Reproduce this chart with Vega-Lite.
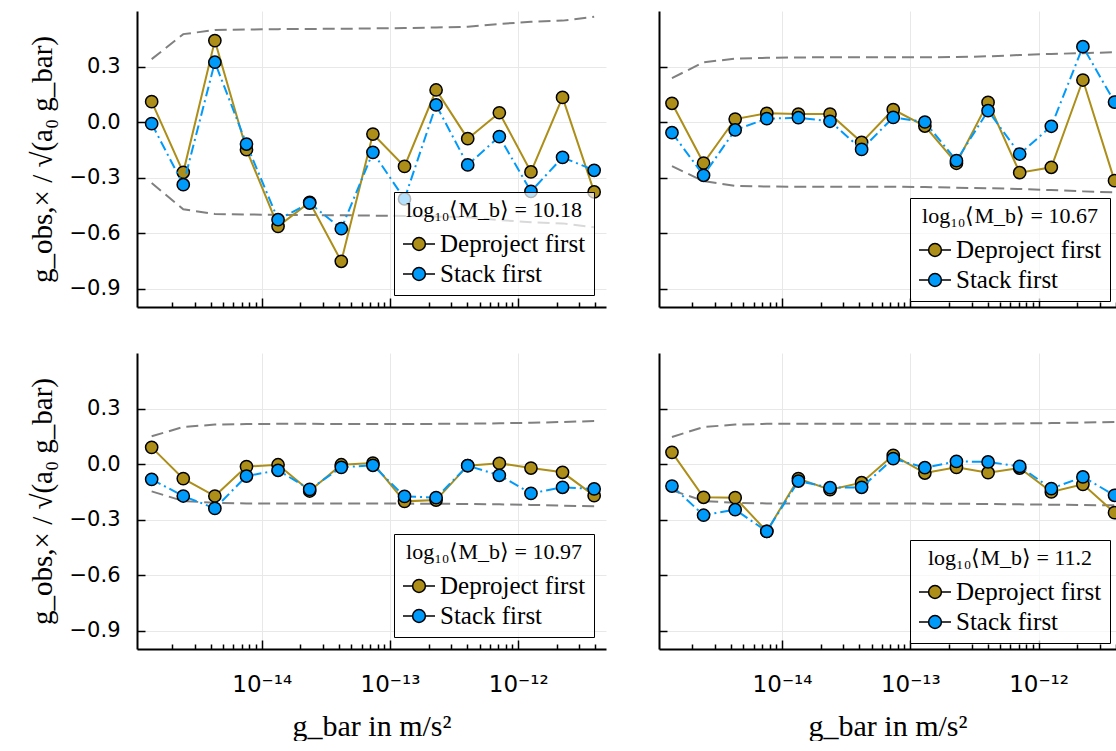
{
"$schema": "https://vega.github.io/schema/vega-lite/v6.json",
"background": "white",
"padding": {"left": 28, "top": 11, "right": 0, "bottom": 0},
"config": {
 "view": {"stroke": null},
 "axis": {"domainColor": "black", "domainWidth": 2, "tickColor": "black", "tickWidth": 1.5, "gridColor": "#e8e8e8", "gridWidth": 1, "labelColor": "black", "titleFont": "Liberation Serif", "titleFontSize": 29, "titleFontWeight": "normal", "titleColor": "black"},
 "legend": {"padding": 8, "fillColor": "rgba(255,255,255,0.7)", "strokeColor": "black", "cornerRadius": 0, "symbolSize": 1024, "symbolType": "M-1,0H-0.4M0.4,0H1M0.4,0A0.4,0.4,0,1,1,-0.4,0A0.4,0.4,0,1,1,0.4,0Z", "labelFont": "Liberation Serif", "labelFontSize": 25, "labelColor": "black", "labelOffset": 4, "labelLimit": 300, "titleFont": "Liberation Serif", "titleFontSize": 22, "titleFontWeight": "normal", "titleColor": "black", "titleAnchor": "middle", "titlePadding": 5, "titleLimit": 400, "rowPadding": -4}
},
"data": {"values": [
 {"p":"a","x":1.387e-15,"d":0.11,"s":-0.009,"lo":-0.33,"hi":0.34},
 {"p":"a","x":2.446e-15,"d":-0.272,"s":-0.339,"lo":-0.472,"hi":0.475},
 {"p":"a","x":4.313e-15,"d":0.44,"s":0.323,"lo":-0.497,"hi":0.497},
 {"p":"a","x":7.607e-15,"d":-0.15,"s":-0.119,"lo":-0.5,"hi":0.5},
 {"p":"a","x":1.341e-14,"d":-0.564,"s":-0.528,"lo":-0.502,"hi":0.502},
 {"p":"a","x":2.366e-14,"d":-0.434,"s":-0.438,"lo":-0.503,"hi":0.503},
 {"p":"a","x":4.172e-14,"d":-0.753,"s":-0.577,"lo":-0.504,"hi":0.504},
 {"p":"a","x":7.359e-14,"d":-0.065,"s":-0.164,"lo":-0.506,"hi":0.506},
 {"p":"a","x":1.298e-13,"d":-0.24,"s":-0.416,"lo":-0.508,"hi":0.508},
 {"p":"a","x":2.288e-13,"d":0.173,"s":0.092,"lo":-0.511,"hi":0.511},
 {"p":"a","x":4.036e-13,"d":-0.09,"s":-0.232,"lo":-0.515,"hi":0.515},
 {"p":"a","x":7.119e-13,"d":0.05,"s":-0.079,"lo":-0.53,"hi":0.53},
 {"p":"a","x":1.256e-12,"d":-0.27,"s":-0.375,"lo":-0.542,"hi":0.542},
 {"p":"a","x":2.214e-12,"d":0.133,"s":-0.191,"lo":-0.548,"hi":0.548},
 {"p":"a","x":3.905e-12,"d":-0.378,"s":-0.261,"lo":-0.569,"hi":0.569},
 {"p":"b","x":1.387e-15,"d":0.101,"s":-0.058,"lo":-0.239,"hi":0.237},
 {"p":"b","x":2.446e-15,"d":-0.222,"s":-0.288,"lo":-0.32,"hi":0.323},
 {"p":"b","x":4.313e-15,"d":0.016,"s":-0.043,"lo":-0.345,"hi":0.342},
 {"p":"b","x":7.607e-15,"d":0.047,"s":0.018,"lo":-0.349,"hi":0.347},
 {"p":"b","x":1.341e-14,"d":0.043,"s":0.023,"lo":-0.35,"hi":0.349},
 {"p":"b","x":2.366e-14,"d":0.043,"s":0.004,"lo":-0.35,"hi":0.35},
 {"p":"b","x":4.172e-14,"d":-0.11,"s":-0.148,"lo":-0.35,"hi":0.35},
 {"p":"b","x":7.359e-14,"d":0.067,"s":0.025,"lo":-0.35,"hi":0.35},
 {"p":"b","x":1.298e-13,"d":-0.022,"s":0.0,"lo":-0.352,"hi":0.35},
 {"p":"b","x":2.288e-13,"d":-0.223,"s":-0.209,"lo":-0.355,"hi":0.351},
 {"p":"b","x":4.036e-13,"d":0.106,"s":0.061,"lo":-0.358,"hi":0.355},
 {"p":"b","x":7.119e-13,"d":-0.274,"s":-0.173,"lo":-0.362,"hi":0.362},
 {"p":"b","x":1.256e-12,"d":-0.245,"s":-0.023,"lo":-0.368,"hi":0.368},
 {"p":"b","x":2.214e-12,"d":0.227,"s":0.407,"lo":-0.375,"hi":0.372},
 {"p":"b","x":3.905e-12,"d":-0.317,"s":0.108,"lo":-0.38,"hi":0.377},
 {"p":"c","x":1.387e-15,"d":0.09,"s":-0.083,"lo":-0.148,"hi":0.15},
 {"p":"c","x":2.446e-15,"d":-0.079,"s":-0.173,"lo":-0.2,"hi":0.2},
 {"p":"c","x":4.313e-15,"d":-0.173,"s":-0.24,"lo":-0.21,"hi":0.213},
 {"p":"c","x":7.607e-15,"d":-0.014,"s":-0.065,"lo":-0.213,"hi":0.216},
 {"p":"c","x":1.341e-14,"d":-0.004,"s":-0.034,"lo":-0.214,"hi":0.217},
 {"p":"c","x":2.366e-14,"d":-0.146,"s":-0.137,"lo":-0.214,"hi":0.217},
 {"p":"c","x":4.172e-14,"d":-0.004,"s":-0.018,"lo":-0.214,"hi":0.216},
 {"p":"c","x":7.359e-14,"d":0.005,"s":-0.007,"lo":-0.214,"hi":0.216},
 {"p":"c","x":1.298e-13,"d":-0.202,"s":-0.175,"lo":-0.214,"hi":0.216},
 {"p":"c","x":2.288e-13,"d":-0.195,"s":-0.182,"lo":-0.215,"hi":0.217},
 {"p":"c","x":4.036e-13,"d":-0.009,"s":-0.009,"lo":-0.216,"hi":0.218},
 {"p":"c","x":7.119e-13,"d":0.004,"s":-0.061,"lo":-0.218,"hi":0.22},
 {"p":"c","x":1.256e-12,"d":-0.022,"s":-0.159,"lo":-0.221,"hi":0.223},
 {"p":"c","x":2.214e-12,"d":-0.045,"s":-0.126,"lo":-0.225,"hi":0.227},
 {"p":"c","x":3.905e-12,"d":-0.171,"s":-0.135,"lo":-0.229,"hi":0.232},
 {"p":"d","x":1.387e-15,"d":0.063,"s":-0.119,"lo":-0.142,"hi":0.146},
 {"p":"d","x":2.446e-15,"d":-0.18,"s":-0.277,"lo":-0.2,"hi":0.2},
 {"p":"d","x":4.313e-15,"d":-0.182,"s":-0.247,"lo":-0.21,"hi":0.213},
 {"p":"d","x":7.607e-15,"d":-0.364,"s":-0.364,"lo":-0.213,"hi":0.217},
 {"p":"d","x":1.341e-14,"d":-0.079,"s":-0.092,"lo":-0.214,"hi":0.218},
 {"p":"d","x":2.366e-14,"d":-0.139,"s":-0.128,"lo":-0.214,"hi":0.218},
 {"p":"d","x":4.172e-14,"d":-0.101,"s":-0.126,"lo":-0.214,"hi":0.218},
 {"p":"d","x":7.359e-14,"d":0.047,"s":0.029,"lo":-0.214,"hi":0.217},
 {"p":"d","x":1.298e-13,"d":-0.049,"s":-0.02,"lo":-0.214,"hi":0.217},
 {"p":"d","x":2.288e-13,"d":-0.018,"s":0.014,"lo":-0.215,"hi":0.217},
 {"p":"d","x":4.036e-13,"d":-0.047,"s":0.011,"lo":-0.216,"hi":0.218},
 {"p":"d","x":7.119e-13,"d":-0.022,"s":-0.013,"lo":-0.218,"hi":0.219},
 {"p":"d","x":1.256e-12,"d":-0.151,"s":-0.133,"lo":-0.22,"hi":0.221},
 {"p":"d","x":2.214e-12,"d":-0.11,"s":-0.07,"lo":-0.222,"hi":0.224},
 {"p":"d","x":3.905e-12,"d":-0.263,"s":-0.169,"lo":-0.223,"hi":0.227}
]},
"columns": 2,
"spacing": {"row": 45, "column": 52},
"resolve": {"scale": {"fill": "independent", "x": "independent", "y": "independent"}, "legend": {"fill": "independent"}},
"concat": [
 {
  "width": 469, "height": 296,
  "transform": [{"filter": "datum.p == 'a'"}],
  "encoding": {"x": {"field": "x", "type": "quantitative", "scale": {"type": "log", "domain": [1.066e-15, 4.83e-12], "nice": false},
    "axis": {"values": [2e-15,3e-15,4e-15,5e-15,6e-15,7e-15,8e-15,9e-15,1e-14,2e-14,3e-14,4e-14,5e-14,6e-14,7e-14,8e-14,9e-14,1e-13,2e-13,3e-13,4e-13,5e-13,6e-13,7e-13,8e-13,9e-13,1e-12,2e-12,3e-12,4e-12], "labels": false, "title": null, "grid": true,
     "tickSize": {"condition": {"test": "datum.value == 1e-14 || datum.value == 1e-13 || datum.value == 1e-12", "value": -9}, "value": -5},
     "gridOpacity": {"condition": {"test": "datum.value == 1e-14 || datum.value == 1e-13 || datum.value == 1e-12", "value": 1}, "value": 0}}}},
  "layer": [
   {"mark": {"type": "line", "color": "#808080", "strokeWidth": 2, "strokeDash": [12, 6], "clip": true},
    "encoding": {"y": {"field": "hi", "type": "quantitative", "scale": {"domain": [-1, 0.6], "nice": false, "zero": false}, "axis": {"values": [-0.9,-0.6,-0.3,0,0.3], "format": ".1f", "tickSize": -8, "labelPadding": 25, "labelFont": "DejaVu Sans", "labelFontSize": 21, "grid": true, "title": "g_obs,× / √(a₀ g_bar)", "titlePadding": 12}}}},
   {"mark": {"type": "line", "color": "#808080", "strokeWidth": 2, "strokeDash": [12, 6], "clip": true},
    "encoding": {"y": {"field": "lo", "type": "quantitative", "scale": {"domain": [-1, 0.6], "nice": false, "zero": false}, "axis": {"values": [-0.9,-0.6,-0.3,0,0.3], "format": ".1f", "tickSize": -8, "labelPadding": 25, "labelFont": "DejaVu Sans", "labelFontSize": 21, "grid": true, "title": "g_obs,× / √(a₀ g_bar)", "titlePadding": 12}}}},
   {"mark": {"type": "line", "color": "#AC8E18", "strokeWidth": 2, "clip": true},
    "encoding": {"y": {"field": "d", "type": "quantitative", "scale": {"domain": [-1, 0.6], "nice": false, "zero": false}, "axis": {"values": [-0.9,-0.6,-0.3,0,0.3], "format": ".1f", "tickSize": -8, "labelPadding": 25, "labelFont": "DejaVu Sans", "labelFontSize": 21, "grid": true, "title": "g_obs,× / √(a₀ g_bar)", "titlePadding": 12}}}},
   {"mark": {"type": "point", "filled": true, "size": 150, "stroke": "black", "strokeWidth": 1.5, "opacity": 1, "clip": true},
    "encoding": {"y": {"field": "d", "type": "quantitative", "scale": {"domain": [-1, 0.6], "nice": false, "zero": false}, "axis": {"values": [-0.9,-0.6,-0.3,0,0.3], "format": ".1f", "tickSize": -8, "labelPadding": 25, "labelFont": "DejaVu Sans", "labelFontSize": 21, "grid": true, "title": "g_obs,× / √(a₀ g_bar)", "titlePadding": 12}},
     "fill": {"datum": "Deproject first", "type": "nominal", "scale": {"domain": ["Deproject first", "Stack first"], "range": ["#AC8E18", "#009AFA"]},
      "legend": {"title": "\u00a0\u00a0\u00a0log₁₀⟨M_b⟩ = 10.18\u00a0\u00a0\u00a0", "orient": "bottom-right", "offset": 12,
       "encode": {"legend": {"update": {"strokeWidth": {"value": 1.5}}}, "symbols": {"update": {"shape": {"value": "M-1,0H-0.4M0.4,0H1M0.4,0A0.4,0.4,0,1,1,-0.4,0A0.4,0.4,0,1,1,0.4,0Z"}, "size": {"value": 1024}, "strokeWidth": {"value": 2}, "stroke": {"signal": "datum.value === 'Deproject first' ? '#AC8E18' : '#009AFA'"}, "fill": {"signal": "datum.value === 'Deproject first' ? '#AC8E18' : '#009AFA'"}}}}}}}},
   {"mark": {"type": "line", "color": "#009AFA", "strokeWidth": 2, "strokeDash": [10, 4, 2, 4], "clip": true},
    "encoding": {"y": {"field": "s", "type": "quantitative", "scale": {"domain": [-1, 0.6], "nice": false, "zero": false}, "axis": {"values": [-0.9,-0.6,-0.3,0,0.3], "format": ".1f", "tickSize": -8, "labelPadding": 25, "labelFont": "DejaVu Sans", "labelFontSize": 21, "grid": true, "title": "g_obs,× / √(a₀ g_bar)", "titlePadding": 12}}}},
   {"mark": {"type": "point", "filled": true, "size": 150, "stroke": "black", "strokeWidth": 1.5, "opacity": 1, "clip": true},
    "encoding": {"y": {"field": "s", "type": "quantitative", "scale": {"domain": [-1, 0.6], "nice": false, "zero": false}, "axis": {"values": [-0.9,-0.6,-0.3,0,0.3], "format": ".1f", "tickSize": -8, "labelPadding": 25, "labelFont": "DejaVu Sans", "labelFontSize": 21, "grid": true, "title": "g_obs,× / √(a₀ g_bar)", "titlePadding": 12}},
     "fill": {"datum": "Stack first", "type": "nominal", "scale": {"domain": ["Deproject first", "Stack first"], "range": ["#AC8E18", "#009AFA"]},
      "legend": {"title": "\u00a0\u00a0\u00a0log₁₀⟨M_b⟩ = 10.18\u00a0\u00a0\u00a0", "orient": "bottom-right", "offset": 12,
       "encode": {"legend": {"update": {"strokeWidth": {"value": 1.5}}}, "symbols": {"update": {"shape": {"value": "M-1,0H-0.4M0.4,0H1M0.4,0A0.4,0.4,0,1,1,-0.4,0A0.4,0.4,0,1,1,0.4,0Z"}, "size": {"value": 1024}, "strokeWidth": {"value": 2}, "stroke": {"signal": "datum.value === 'Deproject first' ? '#AC8E18' : '#009AFA'"}, "fill": {"signal": "datum.value === 'Deproject first' ? '#AC8E18' : '#009AFA'"}}}}}}}}
  ]
 },
 {
  "width": 457, "height": 296,
  "transform": [{"filter": "datum.p == 'b'"}],
  "encoding": {"x": {"field": "x", "type": "quantitative", "scale": {"type": "log", "domain": [1.099e-15, 4.01e-12], "nice": false},
    "axis": {"values": [2e-15,3e-15,4e-15,5e-15,6e-15,7e-15,8e-15,9e-15,1e-14,2e-14,3e-14,4e-14,5e-14,6e-14,7e-14,8e-14,9e-14,1e-13,2e-13,3e-13,4e-13,5e-13,6e-13,7e-13,8e-13,9e-13,1e-12,2e-12,3e-12,4e-12], "labels": false, "title": null, "grid": true,
     "tickSize": {"condition": {"test": "datum.value == 1e-14 || datum.value == 1e-13 || datum.value == 1e-12", "value": -9}, "value": -5},
     "gridOpacity": {"condition": {"test": "datum.value == 1e-14 || datum.value == 1e-13 || datum.value == 1e-12", "value": 1}, "value": 0}}}},
  "layer": [
   {"mark": {"type": "line", "color": "#808080", "strokeWidth": 2, "strokeDash": [12, 6], "clip": true},
    "encoding": {"y": {"field": "hi", "type": "quantitative", "scale": {"domain": [-1, 0.6], "nice": false, "zero": false}, "axis": {"values": [-0.9,-0.6,-0.3,0,0.3], "tickSize": -8, "labels": false, "grid": true, "title": null}}}},
   {"mark": {"type": "line", "color": "#808080", "strokeWidth": 2, "strokeDash": [12, 6], "clip": true},
    "encoding": {"y": {"field": "lo", "type": "quantitative", "scale": {"domain": [-1, 0.6], "nice": false, "zero": false}, "axis": {"values": [-0.9,-0.6,-0.3,0,0.3], "tickSize": -8, "labels": false, "grid": true, "title": null}}}},
   {"mark": {"type": "line", "color": "#AC8E18", "strokeWidth": 2, "clip": true},
    "encoding": {"y": {"field": "d", "type": "quantitative", "scale": {"domain": [-1, 0.6], "nice": false, "zero": false}, "axis": {"values": [-0.9,-0.6,-0.3,0,0.3], "tickSize": -8, "labels": false, "grid": true, "title": null}}}},
   {"mark": {"type": "point", "filled": true, "size": 150, "stroke": "black", "strokeWidth": 1.5, "opacity": 1, "clip": true},
    "encoding": {"y": {"field": "d", "type": "quantitative", "scale": {"domain": [-1, 0.6], "nice": false, "zero": false}, "axis": {"values": [-0.9,-0.6,-0.3,0,0.3], "tickSize": -8, "labels": false, "grid": true, "title": null}},
     "fill": {"datum": "Deproject first", "type": "nominal", "scale": {"domain": ["Deproject first", "Stack first"], "range": ["#AC8E18", "#009AFA"]},
      "legend": {"title": "\u00a0\u00a0\u00a0log₁₀⟨M_b⟩ = 10.67\u00a0\u00a0\u00a0", "orient": "bottom-right", "offset": 6,
       "encode": {"legend": {"update": {"strokeWidth": {"value": 1.5}}}, "symbols": {"update": {"shape": {"value": "M-1,0H-0.4M0.4,0H1M0.4,0A0.4,0.4,0,1,1,-0.4,0A0.4,0.4,0,1,1,0.4,0Z"}, "size": {"value": 1024}, "strokeWidth": {"value": 2}, "stroke": {"signal": "datum.value === 'Deproject first' ? '#AC8E18' : '#009AFA'"}, "fill": {"signal": "datum.value === 'Deproject first' ? '#AC8E18' : '#009AFA'"}}}}}}}},
   {"mark": {"type": "line", "color": "#009AFA", "strokeWidth": 2, "strokeDash": [10, 4, 2, 4], "clip": true},
    "encoding": {"y": {"field": "s", "type": "quantitative", "scale": {"domain": [-1, 0.6], "nice": false, "zero": false}, "axis": {"values": [-0.9,-0.6,-0.3,0,0.3], "tickSize": -8, "labels": false, "grid": true, "title": null}}}},
   {"mark": {"type": "point", "filled": true, "size": 150, "stroke": "black", "strokeWidth": 1.5, "opacity": 1, "clip": true},
    "encoding": {"y": {"field": "s", "type": "quantitative", "scale": {"domain": [-1, 0.6], "nice": false, "zero": false}, "axis": {"values": [-0.9,-0.6,-0.3,0,0.3], "tickSize": -8, "labels": false, "grid": true, "title": null}},
     "fill": {"datum": "Stack first", "type": "nominal", "scale": {"domain": ["Deproject first", "Stack first"], "range": ["#AC8E18", "#009AFA"]},
      "legend": {"title": "\u00a0\u00a0\u00a0log₁₀⟨M_b⟩ = 10.67\u00a0\u00a0\u00a0", "orient": "bottom-right", "offset": 6,
       "encode": {"legend": {"update": {"strokeWidth": {"value": 1.5}}}, "symbols": {"update": {"shape": {"value": "M-1,0H-0.4M0.4,0H1M0.4,0A0.4,0.4,0,1,1,-0.4,0A0.4,0.4,0,1,1,0.4,0Z"}, "size": {"value": 1024}, "strokeWidth": {"value": 2}, "stroke": {"signal": "datum.value === 'Deproject first' ? '#AC8E18' : '#009AFA'"}, "fill": {"signal": "datum.value === 'Deproject first' ? '#AC8E18' : '#009AFA'"}}}}}}}}
  ]
 },
 {
  "width": 469, "height": 296,
  "transform": [{"filter": "datum.p == 'c'"}],
  "encoding": {"x": {"field": "x", "type": "quantitative", "scale": {"type": "log", "domain": [1.066e-15, 4.83e-12], "nice": false},
    "axis": {"values": [2e-15,3e-15,4e-15,5e-15,6e-15,7e-15,8e-15,9e-15,1e-14,2e-14,3e-14,4e-14,5e-14,6e-14,7e-14,8e-14,9e-14,1e-13,2e-13,3e-13,4e-13,5e-13,6e-13,7e-13,8e-13,9e-13,1e-12,2e-12,3e-12,4e-12],
     "labelExpr": "datum.value == 1e-14 ? '10⁻¹⁴' : datum.value == 1e-13 ? '10⁻¹³' : datum.value == 1e-12 ? '10⁻¹²' : ''",
     "labelOverlap": false, "labelFlush": false, "labelFont": "DejaVu Sans", "labelFontSize": 23, "labelPadding": 33,
     "title": "g_bar in m/s²", "titleFontSize": 30, "titlePadding": 11, "grid": true,
     "tickSize": {"condition": {"test": "datum.value == 1e-14 || datum.value == 1e-13 || datum.value == 1e-12", "value": -9}, "value": -5},
     "gridOpacity": {"condition": {"test": "datum.value == 1e-14 || datum.value == 1e-13 || datum.value == 1e-12", "value": 1}, "value": 0}}}},
  "layer": [
   {"mark": {"type": "line", "color": "#808080", "strokeWidth": 2, "strokeDash": [12, 6], "clip": true},
    "encoding": {"y": {"field": "hi", "type": "quantitative", "scale": {"domain": [-1, 0.6], "nice": false, "zero": false}, "axis": {"values": [-0.9,-0.6,-0.3,0,0.3], "format": ".1f", "tickSize": -8, "labelPadding": 25, "labelFont": "DejaVu Sans", "labelFontSize": 21, "grid": true, "title": "g_obs,× / √(a₀ g_bar)", "titlePadding": 12}}}},
   {"mark": {"type": "line", "color": "#808080", "strokeWidth": 2, "strokeDash": [12, 6], "clip": true},
    "encoding": {"y": {"field": "lo", "type": "quantitative", "scale": {"domain": [-1, 0.6], "nice": false, "zero": false}, "axis": {"values": [-0.9,-0.6,-0.3,0,0.3], "format": ".1f", "tickSize": -8, "labelPadding": 25, "labelFont": "DejaVu Sans", "labelFontSize": 21, "grid": true, "title": "g_obs,× / √(a₀ g_bar)", "titlePadding": 12}}}},
   {"mark": {"type": "line", "color": "#AC8E18", "strokeWidth": 2, "clip": true},
    "encoding": {"y": {"field": "d", "type": "quantitative", "scale": {"domain": [-1, 0.6], "nice": false, "zero": false}, "axis": {"values": [-0.9,-0.6,-0.3,0,0.3], "format": ".1f", "tickSize": -8, "labelPadding": 25, "labelFont": "DejaVu Sans", "labelFontSize": 21, "grid": true, "title": "g_obs,× / √(a₀ g_bar)", "titlePadding": 12}}}},
   {"mark": {"type": "point", "filled": true, "size": 150, "stroke": "black", "strokeWidth": 1.5, "opacity": 1, "clip": true},
    "encoding": {"y": {"field": "d", "type": "quantitative", "scale": {"domain": [-1, 0.6], "nice": false, "zero": false}, "axis": {"values": [-0.9,-0.6,-0.3,0,0.3], "format": ".1f", "tickSize": -8, "labelPadding": 25, "labelFont": "DejaVu Sans", "labelFontSize": 21, "grid": true, "title": "g_obs,× / √(a₀ g_bar)", "titlePadding": 12}},
     "fill": {"datum": "Deproject first", "type": "nominal", "scale": {"domain": ["Deproject first", "Stack first"], "range": ["#AC8E18", "#009AFA"]},
      "legend": {"title": "\u00a0\u00a0\u00a0log₁₀⟨M_b⟩ = 10.97\u00a0\u00a0\u00a0", "orient": "bottom-right", "offset": 12,
       "encode": {"legend": {"update": {"strokeWidth": {"value": 1.5}}}, "symbols": {"update": {"shape": {"value": "M-1,0H-0.4M0.4,0H1M0.4,0A0.4,0.4,0,1,1,-0.4,0A0.4,0.4,0,1,1,0.4,0Z"}, "size": {"value": 1024}, "strokeWidth": {"value": 2}, "stroke": {"signal": "datum.value === 'Deproject first' ? '#AC8E18' : '#009AFA'"}, "fill": {"signal": "datum.value === 'Deproject first' ? '#AC8E18' : '#009AFA'"}}}}}}}},
   {"mark": {"type": "line", "color": "#009AFA", "strokeWidth": 2, "strokeDash": [10, 4, 2, 4], "clip": true},
    "encoding": {"y": {"field": "s", "type": "quantitative", "scale": {"domain": [-1, 0.6], "nice": false, "zero": false}, "axis": {"values": [-0.9,-0.6,-0.3,0,0.3], "format": ".1f", "tickSize": -8, "labelPadding": 25, "labelFont": "DejaVu Sans", "labelFontSize": 21, "grid": true, "title": "g_obs,× / √(a₀ g_bar)", "titlePadding": 12}}}},
   {"mark": {"type": "point", "filled": true, "size": 150, "stroke": "black", "strokeWidth": 1.5, "opacity": 1, "clip": true},
    "encoding": {"y": {"field": "s", "type": "quantitative", "scale": {"domain": [-1, 0.6], "nice": false, "zero": false}, "axis": {"values": [-0.9,-0.6,-0.3,0,0.3], "format": ".1f", "tickSize": -8, "labelPadding": 25, "labelFont": "DejaVu Sans", "labelFontSize": 21, "grid": true, "title": "g_obs,× / √(a₀ g_bar)", "titlePadding": 12}},
     "fill": {"datum": "Stack first", "type": "nominal", "scale": {"domain": ["Deproject first", "Stack first"], "range": ["#AC8E18", "#009AFA"]},
      "legend": {"title": "\u00a0\u00a0\u00a0log₁₀⟨M_b⟩ = 10.97\u00a0\u00a0\u00a0", "orient": "bottom-right", "offset": 12,
       "encode": {"legend": {"update": {"strokeWidth": {"value": 1.5}}}, "symbols": {"update": {"shape": {"value": "M-1,0H-0.4M0.4,0H1M0.4,0A0.4,0.4,0,1,1,-0.4,0A0.4,0.4,0,1,1,0.4,0Z"}, "size": {"value": 1024}, "strokeWidth": {"value": 2}, "stroke": {"signal": "datum.value === 'Deproject first' ? '#AC8E18' : '#009AFA'"}, "fill": {"signal": "datum.value === 'Deproject first' ? '#AC8E18' : '#009AFA'"}}}}}}}}
  ]
 },
 {
  "width": 457, "height": 296,
  "transform": [{"filter": "datum.p == 'd'"}],
  "encoding": {"x": {"field": "x", "type": "quantitative", "scale": {"type": "log", "domain": [1.099e-15, 4.01e-12], "nice": false},
    "axis": {"values": [2e-15,3e-15,4e-15,5e-15,6e-15,7e-15,8e-15,9e-15,1e-14,2e-14,3e-14,4e-14,5e-14,6e-14,7e-14,8e-14,9e-14,1e-13,2e-13,3e-13,4e-13,5e-13,6e-13,7e-13,8e-13,9e-13,1e-12,2e-12,3e-12,4e-12],
     "labelExpr": "datum.value == 1e-14 ? '10⁻¹⁴' : datum.value == 1e-13 ? '10⁻¹³' : datum.value == 1e-12 ? '10⁻¹²' : ''",
     "labelOverlap": false, "labelFlush": false, "labelFont": "DejaVu Sans", "labelFontSize": 23, "labelPadding": 33,
     "title": "g_bar in m/s²", "titleFontSize": 30, "titlePadding": 11, "grid": true,
     "tickSize": {"condition": {"test": "datum.value == 1e-14 || datum.value == 1e-13 || datum.value == 1e-12", "value": -9}, "value": -5},
     "gridOpacity": {"condition": {"test": "datum.value == 1e-14 || datum.value == 1e-13 || datum.value == 1e-12", "value": 1}, "value": 0}}}},
  "layer": [
   {"mark": {"type": "line", "color": "#808080", "strokeWidth": 2, "strokeDash": [12, 6], "clip": true},
    "encoding": {"y": {"field": "hi", "type": "quantitative", "scale": {"domain": [-1, 0.6], "nice": false, "zero": false}, "axis": {"values": [-0.9,-0.6,-0.3,0,0.3], "tickSize": -8, "labels": false, "grid": true, "title": null}}}},
   {"mark": {"type": "line", "color": "#808080", "strokeWidth": 2, "strokeDash": [12, 6], "clip": true},
    "encoding": {"y": {"field": "lo", "type": "quantitative", "scale": {"domain": [-1, 0.6], "nice": false, "zero": false}, "axis": {"values": [-0.9,-0.6,-0.3,0,0.3], "tickSize": -8, "labels": false, "grid": true, "title": null}}}},
   {"mark": {"type": "line", "color": "#AC8E18", "strokeWidth": 2, "clip": true},
    "encoding": {"y": {"field": "d", "type": "quantitative", "scale": {"domain": [-1, 0.6], "nice": false, "zero": false}, "axis": {"values": [-0.9,-0.6,-0.3,0,0.3], "tickSize": -8, "labels": false, "grid": true, "title": null}}}},
   {"mark": {"type": "point", "filled": true, "size": 150, "stroke": "black", "strokeWidth": 1.5, "opacity": 1, "clip": true},
    "encoding": {"y": {"field": "d", "type": "quantitative", "scale": {"domain": [-1, 0.6], "nice": false, "zero": false}, "axis": {"values": [-0.9,-0.6,-0.3,0,0.3], "tickSize": -8, "labels": false, "grid": true, "title": null}},
     "fill": {"datum": "Deproject first", "type": "nominal", "scale": {"domain": ["Deproject first", "Stack first"], "range": ["#AC8E18", "#009AFA"]},
      "legend": {"title": "\u00a0\u00a0\u00a0log₁₀⟨M_b⟩ = 11.2\u00a0\u00a0\u00a0", "orient": "bottom-right", "offset": 6,
       "encode": {"legend": {"update": {"strokeWidth": {"value": 1.5}}}, "symbols": {"update": {"shape": {"value": "M-1,0H-0.4M0.4,0H1M0.4,0A0.4,0.4,0,1,1,-0.4,0A0.4,0.4,0,1,1,0.4,0Z"}, "size": {"value": 1024}, "strokeWidth": {"value": 2}, "stroke": {"signal": "datum.value === 'Deproject first' ? '#AC8E18' : '#009AFA'"}, "fill": {"signal": "datum.value === 'Deproject first' ? '#AC8E18' : '#009AFA'"}}}}}}}},
   {"mark": {"type": "line", "color": "#009AFA", "strokeWidth": 2, "strokeDash": [10, 4, 2, 4], "clip": true},
    "encoding": {"y": {"field": "s", "type": "quantitative", "scale": {"domain": [-1, 0.6], "nice": false, "zero": false}, "axis": {"values": [-0.9,-0.6,-0.3,0,0.3], "tickSize": -8, "labels": false, "grid": true, "title": null}}}},
   {"mark": {"type": "point", "filled": true, "size": 150, "stroke": "black", "strokeWidth": 1.5, "opacity": 1, "clip": true},
    "encoding": {"y": {"field": "s", "type": "quantitative", "scale": {"domain": [-1, 0.6], "nice": false, "zero": false}, "axis": {"values": [-0.9,-0.6,-0.3,0,0.3], "tickSize": -8, "labels": false, "grid": true, "title": null}},
     "fill": {"datum": "Stack first", "type": "nominal", "scale": {"domain": ["Deproject first", "Stack first"], "range": ["#AC8E18", "#009AFA"]},
      "legend": {"title": "\u00a0\u00a0\u00a0log₁₀⟨M_b⟩ = 11.2\u00a0\u00a0\u00a0", "orient": "bottom-right", "offset": 6,
       "encode": {"legend": {"update": {"strokeWidth": {"value": 1.5}}}, "symbols": {"update": {"shape": {"value": "M-1,0H-0.4M0.4,0H1M0.4,0A0.4,0.4,0,1,1,-0.4,0A0.4,0.4,0,1,1,0.4,0Z"}, "size": {"value": 1024}, "strokeWidth": {"value": 2}, "stroke": {"signal": "datum.value === 'Deproject first' ? '#AC8E18' : '#009AFA'"}, "fill": {"signal": "datum.value === 'Deproject first' ? '#AC8E18' : '#009AFA'"}}}}}}}}
  ]
 }
]
}
